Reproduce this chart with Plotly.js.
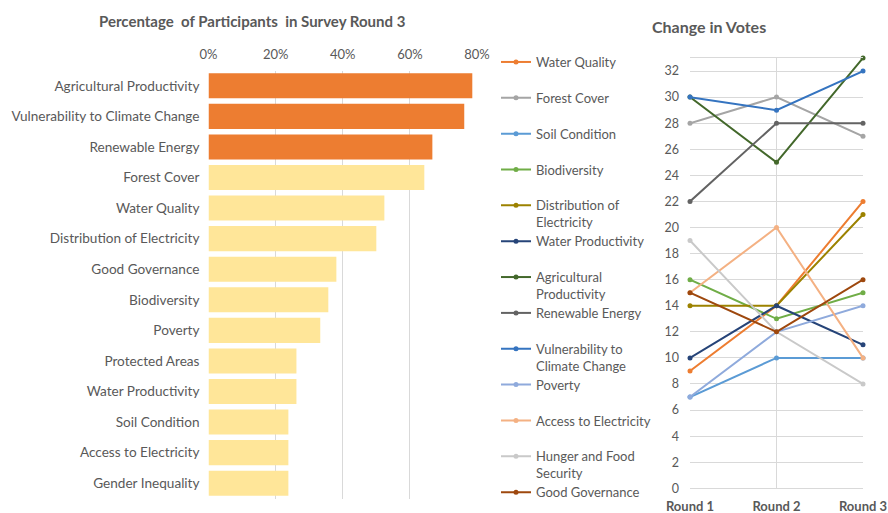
<!DOCTYPE html>
<html>
<head>
<meta charset="utf-8">
<script src="https://cdn.plot.ly/plotly-3.0.1.min.js"></script>
<style>html,body{margin:0;padding:0;background:#fff;}#chart{width:888px;height:513px;}</style>
</head>
<body>
<div id="chart"></div>
<script>
// ---- Bar chart data: Percentage of Participants in Survey Round 3 ----
const barCategories = ["Agricultural Productivity","Vulnerability to Climate Change","Renewable Energy","Forest Cover","Water Quality","Distribution of Electricity","Good Governance","Biodiversity","Poverty","Protected Areas","Water Productivity","Soil Condition","Access to Electricity","Gender Inequality"];
const barPercent = [78.6,76.2,66.7,64.3,52.4,50.0,38.1,35.7,33.3,26.2,26.2,23.8,23.8,23.8];
const barColors = ["#ED7D31","#ED7D31","#ED7D31","#FFE699","#FFE699","#FFE699","#FFE699","#FFE699","#FFE699","#FFE699","#FFE699","#FFE699","#FFE699","#FFE699"];
const barTicks = [0,20,40,60,80];
const barTickText = ["0%","20%","40%","60%","80%"];

// ---- Line chart data: Change in Votes ----
const rounds = ["Round 1","Round 2","Round 3"];
const seriesNames = ["Water Quality","Forest Cover","Soil Condition","Biodiversity","Distribution of<br>Electricity","Water Productivity","Agricultural<br>Productivity","Renewable Energy","Vulnerability to<br>Climate Change","Poverty","Access to Electricity","Hunger and Food<br>Security","Good Governance"];
const waterQuality = [9,14,22];
const forestCover = [28,30,27];
const soilCondition = [7,10,10];
const biodiversity = [16,13,15];
const distributionElectricity = [14,14,21];
const waterProductivity = [10,14,11];
const agriculturalProductivity = [30,25,33];
const renewableEnergy = [22,28,28];
const vulnerabilityClimate = [30,29,32];
const poverty = [7,12,14];
const accessElectricity = [15,20,10];
const hungerFood = [19,12,8];
const goodGovernance = [15,12,16];
const seriesValues = [waterQuality,forestCover,soilCondition,biodiversity,distributionElectricity,waterProductivity,agriculturalProductivity,renewableEnergy,vulnerabilityClimate,poverty,accessElectricity,hungerFood,goodGovernance];
const seriesColors = ["#ED7D31","#A5A5A5","#5B9BD5","#70AD47","#9C8200","#264478","#43682B","#636363","#3574C0","#8FAADC","#F4B183","#C9C9C9","#9E480E"];
const voteTicks = [0,2,4,6,8,10,12,14,16,18,20,22,24,26,28,30,32];

const W = 888, H = 513;
const fx = px => px / W;
const fy = py => 1 - py / H;
const txt = "#595959";
const grid = "#D9D9D9";
const FONT = "Lato, 'Open Sans', sans-serif";

const traces = [];
traces.push({
  type: "bar", orientation: "h",
  x: barPercent, y: barCategories,
  marker: {color: barColors},
  xaxis: "x", yaxis: "y",
  showlegend: false, hoverinfo: "x+y"
});

const layout = {
  width: W, height: H,
  margin: {l: 0, r: 0, t: 0, b: 0},
  paper_bgcolor: "#fff", plot_bgcolor: "rgba(0,0,0,0)",
  font: {family: FONT, color: txt, size: 13},
  bargap: 0.18,
  xaxis: {
    domain: [fx(208.5), fx(477)], range: [0, 80], side: "top",
    tickvals: barTicks, ticktext: barTickText,
    showgrid: true, gridcolor: grid, gridwidth: 1, zeroline: false, showline: false,
    ticks: "", ticklabelstandoff: 8,
    tickfont: {size: 13, color: txt, family: FONT}, fixedrange: true
  },
  yaxis: {
    domain: [fy(498.5), fy(70.5)], autorange: "reversed", type: "category",
    showgrid: false, zeroline: false, showline: false, ticks: "",
    ticklabelstandoff: 8,
    tickfont: {size: 13.6, color: txt, family: FONT}, fixedrange: true
  },
  xaxis2: {
    domain: [fx(690), fx(863)], anchor: "y2", type: "category", range: [0, 2],
    showgrid: true, gridcolor: grid, zeroline: false,
    showline: true, linecolor: grid, mirror: true, ticks: "",
    ticklabelstandoff: 6,
    tickfont: {size: 13, color: txt, family: FONT, weight: "bold"}, fixedrange: true
  },
  yaxis2: {
    domain: [fy(488.3), fy(58)], anchor: "x2", range: [0, 33],
    tickvals: voteTicks,
    showgrid: true, gridcolor: grid, zeroline: false, showline: false,
    ticks: "", ticklabelstandoff: 10,
    tickfont: {size: 12.5, color: txt, family: FONT}, fixedrange: true
  },
  annotations: [
    {text: "<b>Percentage  of Participants  in Survey Round 3</b>", xref: "paper", yref: "paper",
     x: fx(252), y: fy(21), xanchor: "center", yanchor: "middle", showarrow: false,
     font: {size: 15, color: txt, family: FONT}},
    {text: "<b>Change in Votes</b>", xref: "paper", yref: "paper",
     x: fx(650), y: fy(26), xanchor: "left", yanchor: "middle", showarrow: false,
     font: {size: 16, color: txt, family: FONT}}
  ]
};

const legendTop = 62, legendStep = 35.85;
seriesNames.forEach((name, i) => {
  const key = i === 0 ? "legend" : "legend" + (i + 1);
  traces.push({
    type: "scatter", mode: "lines+markers",
    x: rounds, y: seriesValues[i], name: name,
    line: {color: seriesColors[i], width: 2},
    marker: {color: seriesColors[i], size: 5},
    xaxis: "x2", yaxis: "y2", cliponaxis: false,
    legend: key, showlegend: true
  });
  layout[key] = {
    x: fx(496), y: fy(legendTop + i * legendStep - 15),
    xanchor: "left", yanchor: "top", valign: "top",
    bgcolor: "rgba(0,0,0,0)", borderwidth: 0, itemwidth: 30,
    font: {size: 13, color: txt, family: FONT},
    itemclick: false, itemdoubleclick: false
  };
});

Plotly.newPlot("chart", traces, layout, {displayModeBar: false, staticPlot: true});
</script>
</body>
</html>
